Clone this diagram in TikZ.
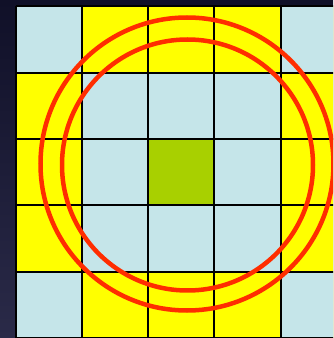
\documentclass[tikz,border=0pt]{standalone}
\definecolor{cellblue}{RGB}{197,229,233}
\definecolor{cellyellow}{RGB}{255,255,0}
\definecolor{cellgreen}{RGB}{168,208,0}
\definecolor{ringred}{RGB}{255,45,0}
\definecolor{bgtop}{RGB}{16,16,40}
\definecolor{bgbot}{RGB}{42,42,72}
\tikzset{
  gridline/.style={black, line width=2pt},
  ring/.style={draw=ringred, line width=4.5pt},
}
\begin{document}
\begin{tikzpicture}[x=1pt,y=1pt]
\useasboundingbox (0,0) rectangle (333,338);
\clip (0,0) rectangle (333,338);
\shade[top color=bgtop, bottom color=bgbot] (0,0) rectangle (333,338);
% grid origin: left 15.5, top 331.5, cell 66.3
\def\gx{15.5}
\def\gy{331.5}
\def\gs{66.3}
\fill[cellyellow] (\gx,\gy) rectangle (400,-20);
\foreach \c/\r in {0/0,4/0,1/1,2/1,3/1,1/2,3/2,1/3,2/3,3/3,0/4,4/4}{
  \fill[cellblue] ({\gx+\c*\gs},{\gy-\r*\gs}) rectangle ({\gx+(\c+1)*\gs},{\gy-(\r+1)*\gs});
}
\fill[cellgreen] ({\gx+2*\gs},{\gy-2*\gs}) rectangle ({\gx+3*\gs},{\gy-3*\gs});
\foreach \i in {0,...,5}{
  \draw[gridline] ({\gx+\i*\gs},\gy) -- ({\gx+\i*\gs},-20);
  \draw[gridline] (\gx,{\gy-\i*\gs}) -- (400,{\gy-\i*\gs});
}
\draw[ring] (187,174) circle (146.5);
\draw[ring] (187.5,173) circle (125.5);
\end{tikzpicture}
\end{document}
